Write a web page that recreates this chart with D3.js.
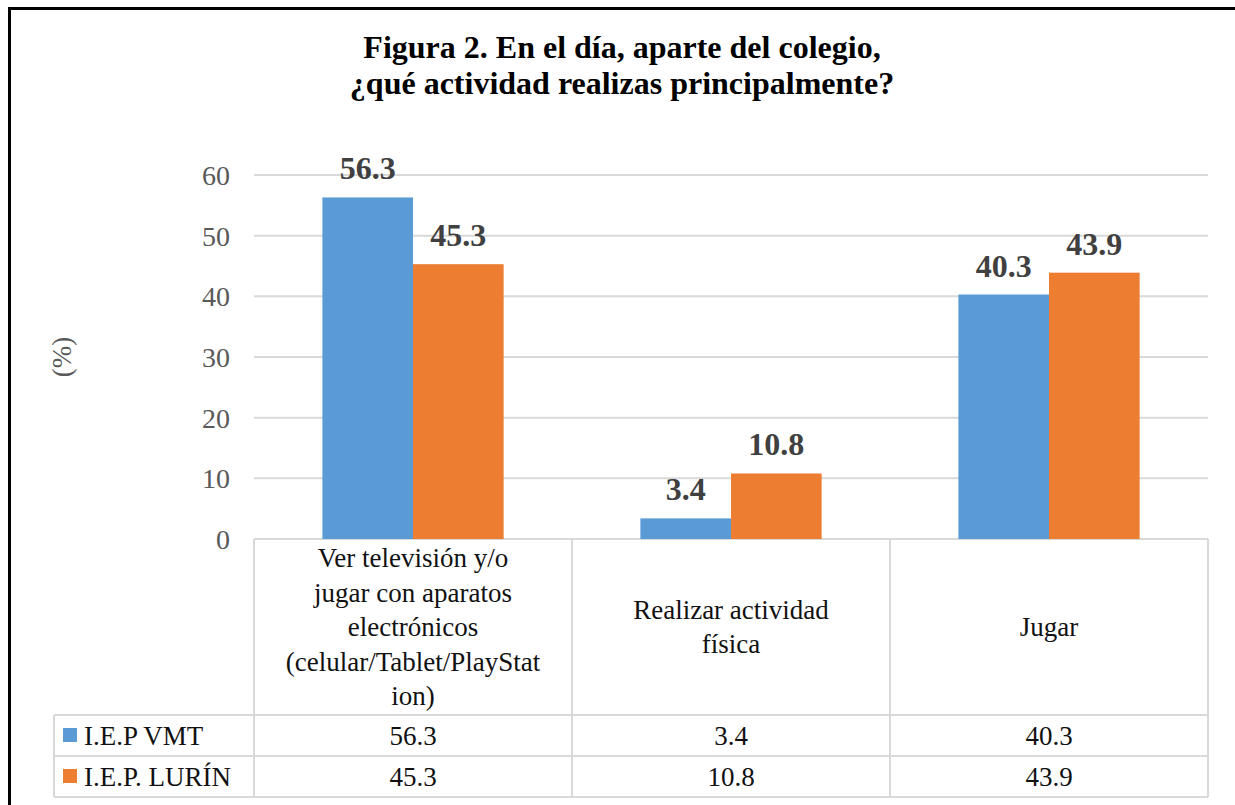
<!DOCTYPE html>
<html>
<head>
<meta charset="utf-8">
<script src="https://cdn.jsdelivr.net/npm/d3@7"></script>
<style>
  body { margin: 0; background: #fff; }
  svg { display: block; font-family: "Liberation Serif", "Times New Roman", serif; }
</style>
</head>
<body>
<script>
// chart data
var categories = ["cat1", "cat2", "cat3"];
var categoryLines = [
  ["Ver televisión y/o", "jugar con aparatos", "electrónicos", "(celular/Tablet/PlayStat", "ion)"],
  ["Realizar actividad", "física"],
  ["Jugar"]
];
var seriesNames = ["I.E.P VMT", "I.E.P. LURÍN"];
var vmtValues = [56.3, 3.4, 40.3];
var lurinValues = [45.3, 10.8, 43.9];
var yTicks = [0, 10, 20, 30, 40, 50, 60];
var colors = ["#5b9bd5", "#ed7d31"];
var titleLines = ["Figura 2. En el día, aparte del colegio,", "¿qué actividad realizas principalmente?"];

var svgWidth = 1235;
var svgHeight = 805;

// plot area
var plotLeft = 254, plotRight = 1208, plotTop = 175, plotBottom = 539;
var headerBottom = 715, rowHeight = 41, legendLeft = 54;

var svg = d3.select("body")
  .append("svg")
  .attr("width", svgWidth)
  .attr("height", svgHeight);

svg.append("rect").attr("width", svgWidth).attr("height", svgHeight).attr("fill", "#fff");

// outer frame (only left and top visible)
svg.append("line").attr("x1", 9.5).attr("x2", 9.5).attr("y1", 7).attr("y2", svgHeight)
  .attr("stroke", "#000").attr("stroke-width", 3);
svg.append("line").attr("x1", 8).attr("x2", svgWidth).attr("y1", 8.5).attr("y2", 8.5)
  .attr("stroke", "#000").attr("stroke-width", 3);

// title
svg.append("text")
  .attr("x", 622)
  .attr("text-anchor", "middle")
  .attr("font-size", "32px")
  .attr("font-weight", "bold")
  .attr("fill", "#000")
  .selectAll("tspan")
  .data(titleLines)
  .enter()
  .append("tspan")
  .attr("x", 622)
  .attr("y", (d, i) => 58 + i * 36)
  .text(d => d);

// scales
var x0 = d3.scaleBand().domain(categories).range([plotLeft, plotRight]);
var bw = x0.bandwidth();
var x1 = d3.scaleBand().domain(seriesNames).range([bw * 0.215, bw * 0.785]);
var y = d3.scaleLinear().domain([0, 60]).range([plotBottom, plotTop]);

// gridlines
svg.append("g")
  .selectAll("line")
  .data(yTicks)
  .enter()
  .append("line")
  .attr("x1", plotLeft)
  .attr("x2", plotRight)
  .attr("y1", d => y(d))
  .attr("y2", d => y(d))
  .attr("stroke", "#d9d9d9")
  .attr("stroke-width", 2);

// y tick labels
svg.append("g")
  .selectAll("text")
  .data(yTicks)
  .enter()
  .append("text")
  .attr("x", 230)
  .attr("y", d => y(d) + 10)
  .attr("text-anchor", "end")
  .attr("font-size", "28px")
  .attr("fill", "#595959")
  .text(d => d);

// y axis title
svg.append("text")
  .attr("transform", "translate(62, 357) rotate(-90)")
  .attr("text-anchor", "middle")
  .attr("dominant-baseline", "central")
  .attr("font-size", "27px")
  .attr("fill", "#595959")
  .text("(%)");

// bars
var seriesValues = [vmtValues, lurinValues];
var barData = [];
categories.forEach(function (c, ci) {
  seriesNames.forEach(function (s, si) {
    barData.push({ cat: c, series: s, si: si, value: seriesValues[si][ci] });
  });
});

svg.append("g")
  .selectAll("rect")
  .data(barData)
  .enter()
  .append("rect")
  .attr("x", d => x0(d.cat) + x1(d.series))
  .attr("width", x1.bandwidth())
  .attr("y", d => y(d.value))
  .attr("height", d => y(0) - y(d.value))
  .attr("fill", d => colors[d.si]);

// data labels
svg.append("g")
  .selectAll("text")
  .data(barData)
  .enter()
  .append("text")
  .attr("x", d => x0(d.cat) + x1(d.series) + x1.bandwidth() / 2)
  .attr("y", d => y(d.value) - 18)
  .attr("text-anchor", "middle")
  .attr("font-size", "32px")
  .attr("font-weight", "bold")
  .attr("fill", "#404040")
  .text(d => d.value.toFixed(1));

// data table grid
var tableBottom = headerBottom + rowHeight * 2;
var grid = svg.append("g").attr("stroke", "#d9d9d9").attr("stroke-width", 2);
[headerBottom, headerBottom + rowHeight, tableBottom].forEach(function (yy) {
  grid.append("line").attr("x1", legendLeft).attr("x2", plotRight).attr("y1", yy).attr("y2", yy);
});
grid.append("line").attr("x1", legendLeft).attr("x2", legendLeft).attr("y1", headerBottom).attr("y2", tableBottom);
categories.concat([null]).forEach(function (c) {
  var xx = c === null ? plotRight : x0(c);
  grid.append("line").attr("x1", xx).attr("x2", xx).attr("y1", plotBottom).attr("y2", tableBottom);
});

// category labels in header row
var headerMid = (plotBottom + headerBottom) / 2;
categories.forEach(function (c, ci) {
  var lines = categoryLines[ci];
  svg.append("text")
    .attr("text-anchor", "middle")
    .attr("font-size", "27px")
    .attr("fill", "#111")
    .selectAll("tspan")
    .data(lines)
    .enter()
    .append("tspan")
    .attr("x", x0(c) + bw / 2)
    .attr("y", (d, i) => headerMid - (lines.length - 1) * 34.5 / 2 + 9 + i * 34.5)
    .text(d => d);
});

// value rows + legend keys
seriesNames.forEach(function (s, si) {
  var rowTop = headerBottom + si * rowHeight;
  svg.append("rect")
    .attr("x", 63)
    .attr("y", rowTop + 13)
    .attr("width", 14)
    .attr("height", 14)
    .attr("fill", colors[si]);
  svg.append("text")
    .attr("x", 84)
    .attr("y", rowTop + 30)
    .attr("font-size", "27px")
    .attr("fill", "#111")
    .text(s);
  svg.append("g")
    .selectAll("text")
    .data(categories)
    .enter()
    .append("text")
    .attr("x", d => x0(d) + bw / 2)
    .attr("y", rowTop + 30)
    .attr("text-anchor", "middle")
    .attr("font-size", "27px")
    .attr("fill", "#111")
    .text((d, ci) => seriesValues[si][ci].toFixed(1));
});
</script>
</body>
</html>
